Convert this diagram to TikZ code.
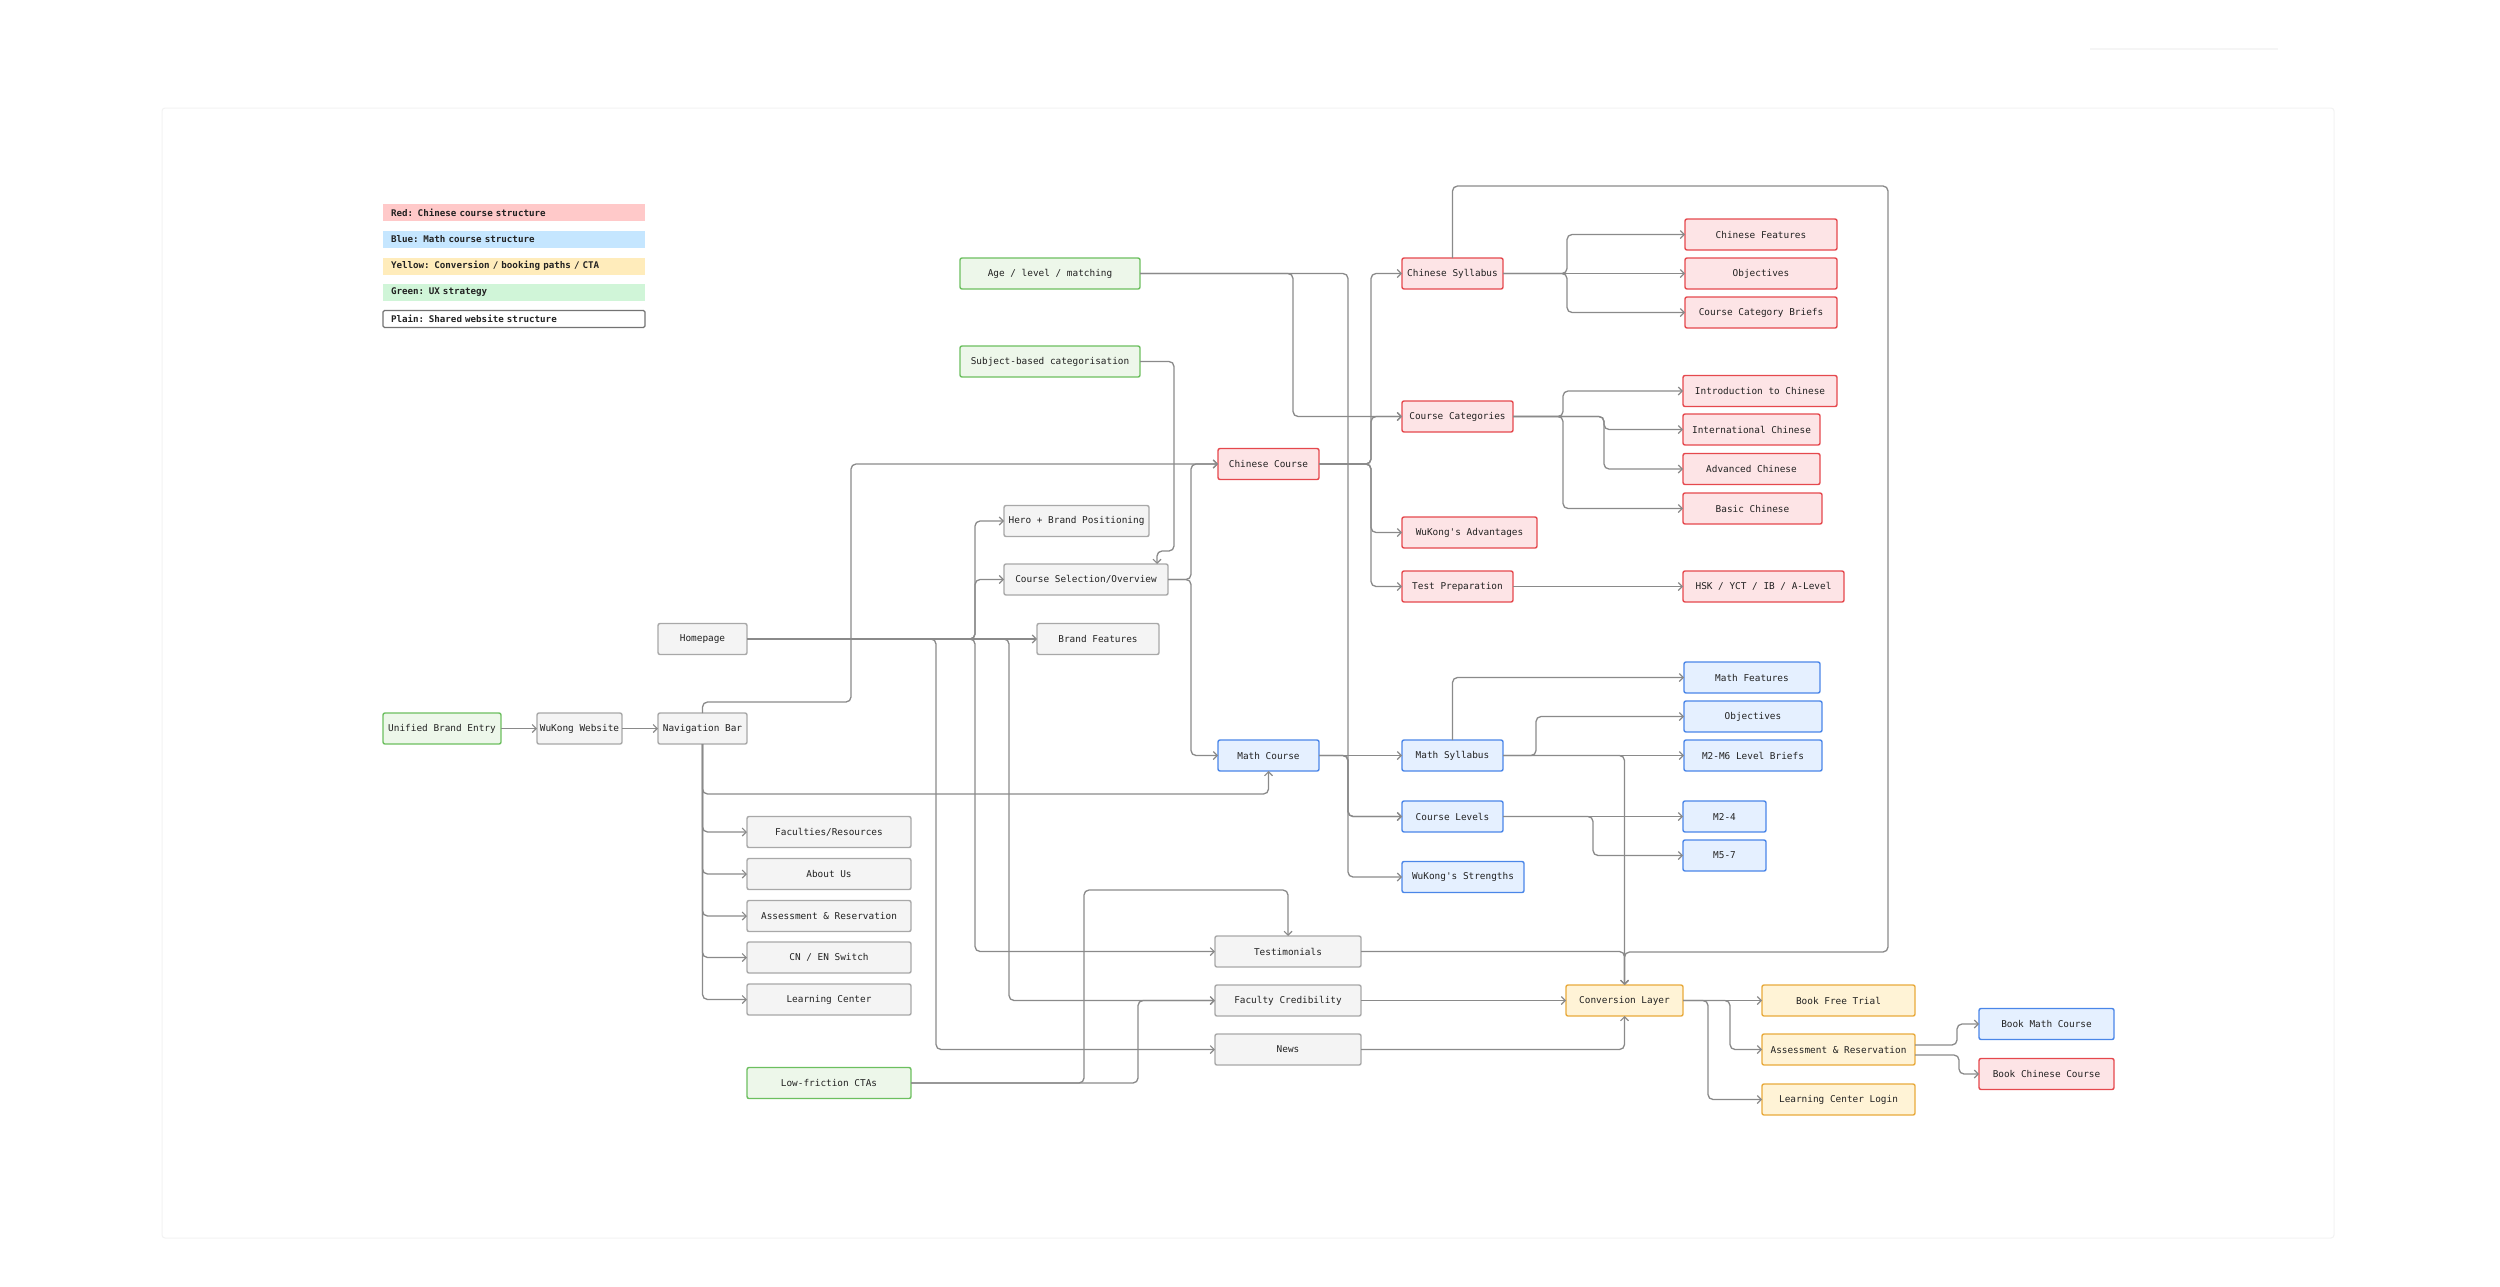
\documentclass[tikz,border=0pt]{standalone}
\usepackage{fontspec}
\setmonofont{DejaVu Sans Mono}
\usetikzlibrary{arrows.meta}
\definecolor{txt}{HTML}{222222}
\definecolor{lnc}{HTML}{8A8A8A}
\definecolor{plainF}{HTML}{F4F4F4}\definecolor{plainD}{HTML}{A8A8A8}
\definecolor{redF}{HTML}{FDE4E6}\definecolor{redD}{HTML}{E5484D}
\definecolor{blueF}{HTML}{E5F0FF}\definecolor{blueD}{HTML}{4A86E8}
\definecolor{yelF}{HTML}{FFF3D6}\definecolor{yelD}{HTML}{E8AA3C}
\definecolor{grnF}{HTML}{EDF7EA}\definecolor{grnD}{HTML}{6CBF5F}
\definecolor{legR}{HTML}{FFC9C9}\definecolor{legB}{HTML}{C5E6FF}
\definecolor{legY}{HTML}{FFECBB}\definecolor{legG}{HTML}{D0F5D8}
\tikzset{
  box/.style={draw, line width=1.4pt, rounded corners=2pt, inner sep=0pt, outer sep=0pt,
    minimum height=31pt, text=txt, font=\ttfamily\fontsize{9.4}{11}\selectfont},
  plainbox/.style={box, fill=plainF, draw=plainD},
  redbox/.style={box, fill=redF, draw=redD},
  bluebox/.style={box, fill=blueF, draw=blueD},
  yelbox/.style={box, fill=yelF, draw=yelD},
  grnbox/.style={box, fill=grnF, draw=grnD},
  legbox/.style={anchor=west, inner xsep=8pt, inner ysep=0pt, outer sep=0pt, minimum height=17pt,
    text width=246pt, align=left, text=txt, font=\ttfamily\fontsize{9.2}{11}\selectfont\bfseries},
  conn/.style={draw=lnc, line width=1.3pt, rounded corners=5pt,
    -{Straight Barb[length=4pt,width=8pt,line width=1.1pt]}},
}
\begin{document}
\begin{tikzpicture}[x=1pt,y=-1pt]
\useasboundingbox (0,0) rectangle (2500,1286);
% faint canvas frame
\draw[black!5, line width=1pt, rounded corners=3pt] (162,108) rectangle (2334,1238);
\draw[black!4, line width=2pt] (2090,49) -- (2278,49);

% legend
\node[legbox, fill=legR] (lgr) at (383,212.5) {Red: Chinese course structure};
\node[legbox, fill=legB] (lgb) at (383,239.5) {Blue: Math course structure};
\node[legbox, fill=legY] (lgy) at (383,266) {Yellow: Conversion / booking paths / CTA};
\node[legbox, fill=legG] (lgg) at (383,292.5) {Green: UX strategy};
\node[legbox, fill=white, draw=black!55, line width=1.2pt, rounded corners=1.5pt] (lgp) at (383,319) {Plain: Shared website structure};

% green
\node[grnbox, minimum width=180pt] (age) at (1050,273.5) {Age / level / matching};
\node[grnbox, minimum width=180pt] (subj) at (1050,361.5) {Subject-based categorisation};
\node[grnbox, minimum width=118pt] (unified) at (442,728.5) {Unified Brand Entry};
\node[grnbox, minimum width=164pt] (lowf) at (829,1083) {Low-friction CTAs};

% plain
\node[plainbox, minimum width=85pt] (website) at (579.5,728.5) {WuKong Website};
\node[plainbox, minimum width=89pt] (navbar) at (702.5,728.5) {Navigation Bar};
\node[plainbox, minimum width=89pt] (homepage) at (702.5,639) {Homepage};
\node[plainbox, minimum width=145pt] (hero) at (1076.5,521) {Hero + Brand Positioning};
\node[plainbox, minimum width=164pt] (csel) at (1086,579.5) {Course Selection/Overview};
\node[plainbox, minimum width=122pt] (brandf) at (1098,639) {Brand Features};
\node[plainbox, minimum width=164pt] (fac) at (829,832) {Faculties/Resources};
\node[plainbox, minimum width=164pt] (about) at (829,874) {About Us};
\node[plainbox, minimum width=164pt] (assess1) at (829,916) {Assessment \& Reservation};
\node[plainbox, minimum width=164pt] (cnen) at (829,957.5) {CN / EN Switch};
\node[plainbox, minimum width=164pt] (lc) at (829,999.5) {Learning Center};
\node[plainbox, minimum width=146pt] (testi) at (1288,951.5) {Testimonials};
\node[plainbox, minimum width=146pt] (faccred) at (1288,1000.5) {Faculty Credibility};
\node[plainbox, minimum width=146pt] (news) at (1288,1049.5) {News};

% red
\node[redbox, minimum width=101pt] (chcourse) at (1268.5,464) {Chinese Course};
\node[redbox, minimum width=101pt] (chsyl) at (1452.5,273.5) {Chinese Syllabus};
\node[redbox, minimum width=111pt] (chcat) at (1457.5,416.5) {Course Categories};
\node[redbox, minimum width=135pt] (adv) at (1469.5,532.5) {WuKong's Advantages};
\node[redbox, minimum width=111pt] (testprep) at (1457.5,586.5) {Test Preparation};
\node[redbox, minimum width=152pt] (chfeat) at (1761,234.5) {Chinese Features};
\node[redbox, minimum width=152pt] (chobj) at (1761,273.5) {Objectives};
\node[redbox, minimum width=152pt] (ccb) at (1761,312.5) {Course Category Briefs};
\node[redbox, minimum width=154pt] (intro) at (1760,391) {Introduction to Chinese};
\node[redbox, minimum width=137pt] (intl) at (1751.5,429.5) {International Chinese};
\node[redbox, minimum width=137pt] (advc) at (1751.5,469) {Advanced Chinese};
\node[redbox, minimum width=139pt] (basic) at (1752.5,508.5) {Basic Chinese};
\node[redbox, minimum width=161pt] (hsk) at (1763.5,586.5) {HSK / YCT / IB / A-Level};
\node[redbox, minimum width=135pt] (bookch) at (2046.5,1074) {Book Chinese Course};

% blue
\node[bluebox, minimum width=101pt] (mathc) at (1268.5,755.5) {Math Course};
\node[bluebox, minimum width=101pt] (mathsyl) at (1452.5,755.5) {Math Syllabus};
\node[bluebox, minimum width=101pt] (levels) at (1452.5,816.5) {Course Levels};
\node[bluebox, minimum width=122pt] (strengths) at (1463,877) {WuKong's Strengths};
\node[bluebox, minimum width=136pt] (mfeat) at (1752,677.5) {Math Features};
\node[bluebox, minimum width=138pt] (mobj) at (1753,716.5) {Objectives};
\node[bluebox, minimum width=138pt] (m26) at (1753,755.5) {M2-M6 Level Briefs};
\node[bluebox, minimum width=83pt] (m24) at (1724.5,816.5) {M2-4};
\node[bluebox, minimum width=83pt] (m57) at (1724.5,855.5) {M5-7};
\node[bluebox, minimum width=135pt] (bookmath) at (2046.5,1024) {Book Math Course};

% yellow
\node[yelbox, minimum width=117pt] (conv) at (1624.5,1000.5) {Conversion Layer};
\node[yelbox, minimum width=153pt] (trial) at (1838.5,1000.5) {Book Free Trial};
\node[yelbox, minimum width=153pt] (assess2) at (1838.5,1049.5) {Assessment \& Reservation};
\node[yelbox, minimum width=153pt] (lclogin) at (1838.5,1099.5) {Learning Center Login};

% connectors
\draw[conn] (unified) -- (website);
\draw[conn] (website) -- (navbar);
\draw[conn] (navbar.north) -- (702.5,702) -- (851,702) -- (851,464) -- (chcourse.west);
\draw[conn] (navbar.south) -- (702.5,794) -- (1268.5,794) -- (mathc.south);
\foreach \n in {fac,about,assess1,cnen,lc} \draw[conn] (navbar.south) |- (\n.west);

\draw[conn] (homepage) -- (brandf);
\draw[conn] (homepage.east) -- (975,639) |- (hero.west);
\draw[conn] (homepage.east) -- (975,639) |- (csel.west);
\draw[conn] (homepage.east) -- (975,639) |- (testi.west);
\draw[conn] (homepage.east) -- (936,639) |- (news.west);
\draw[conn] (homepage.east) -- (1009,639) |- (faccred.west);

\draw[conn] (subj.east) -- (1174,361.5) -- (1174,551) -- (1157,551) -- (1157,551 |- csel.north);
\draw[conn] (age.east) -- (1293,273.5) |- (chcat.west);
\draw[conn] (age.east) -- (1348,273.5) |- (levels.west);

\draw[conn] (csel.east) -- (1191,579.5) |- (chcourse.west);
\draw[conn] (csel.east) -- (1191,579.5) |- (mathc.west);

\foreach \n in {chsyl,chcat,adv,testprep} \draw[conn] (chcourse.east) -- (1371,464) |- (\n.west);
\draw[conn] (chsyl.east) -- (1567,273.5) |- (chfeat.west);
\draw[conn] (chsyl) -- (chobj);
\draw[conn] (chsyl.east) -- (1567,273.5) |- (ccb.west);
\draw[conn] (chcat.east) -- (1563,416.5) |- (intro.west);
\draw[conn] (chcat.east) -- (1563,416.5) |- (basic.west);
\draw[conn] (chcat.east) -- (1604,416.5) |- (intl.west);
\draw[conn] (chcat.east) -- (1604,416.5) |- (advc.west);
\draw[conn] (testprep) -- (hsk);

\draw[conn] (mathc) -- (mathsyl);
\draw[conn] (mathc.east) -- (1348,755.5) |- (levels.west);
\draw[conn] (mathc.east) -- (1348,755.5) |- (strengths.west);
\draw[conn] (mathsyl.north) |- (mfeat.west);
\draw[conn] (mathsyl.east) -- (1536,755.5) |- (mobj.west);
\draw[conn] (mathsyl) -- (m26);
\draw[conn] (mathsyl.east) -| (conv.north);
\draw[conn] (levels) -- (m24);
\draw[conn] (levels.east) -- (1593,816.5) |- (m57.west);

\draw[conn] (chsyl.north) -- (1452.5,186) -- (1888,186) -- (1888,952) -| (conv.north);
\draw[conn] (testi.east) -| (conv.north);
\draw[conn] (faccred) -- (conv);
\draw[conn] (news.east) -| (conv.south);
\draw[conn] (lowf.east) -- (1084,1083) -- (1084,890) -| (testi.north);
\draw[conn] (lowf.east) -- (1138,1083) |- (faccred.west);

\draw[conn] (conv) -- (trial);
\draw[conn] (conv.east) -- (1730,1000.5) |- (assess2.west);
\draw[conn] (conv.east) -- (1708,1000.5) |- (lclogin.west);
\draw[conn] ([yshift=4.5pt]assess2.east) -- (1957,1045) |- (bookmath.west);
\draw[conn] ([yshift=-5.5pt]assess2.east) -- (1959,1055) |- (bookch.west);
\end{tikzpicture}
\end{document}
